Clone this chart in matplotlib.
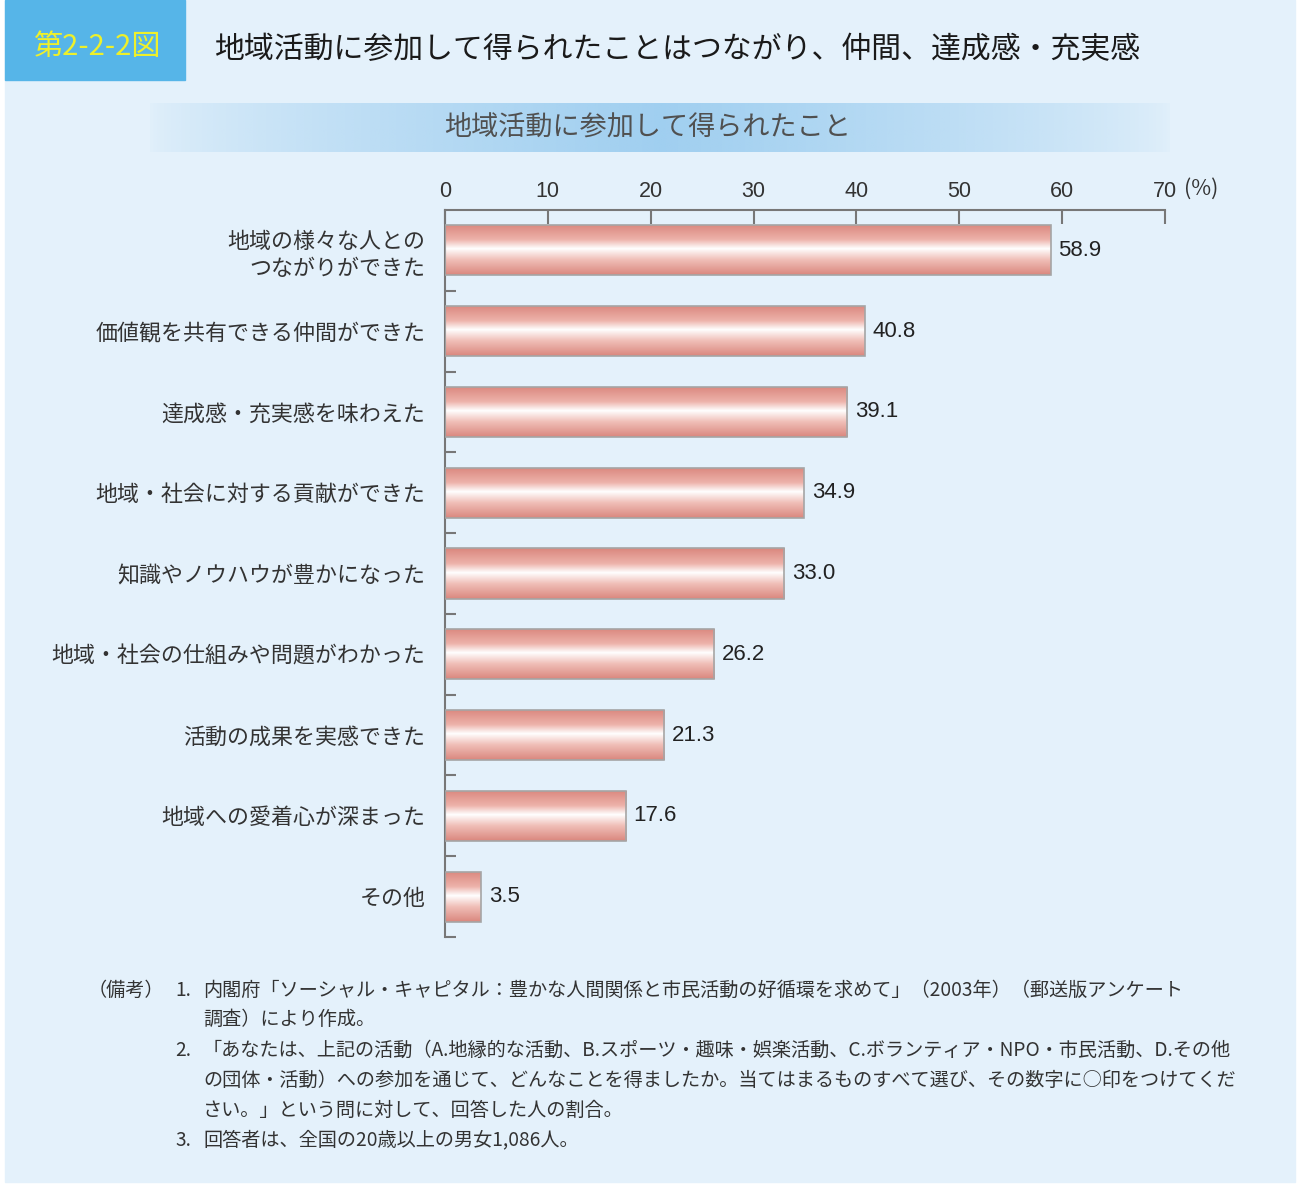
import matplotlib
matplotlib.use('Agg')
import matplotlib.pyplot as plt
import numpy as np
from matplotlib.colors import LinearSegmentedColormap

plt.rcParams['font.family'] = ['Noto Sans CJK JP', 'DejaVu Sans']

#%% Data
categories = ['地域の様々な人との\nつながりができた',
              '価値観を共有できる仲間ができた',
              '達成感・充実感を味わえた',
              '地域・社会に対する貢献ができた',
              '知識やノウハウが豊かになった',
              '地域・社会の仕組みや問題がわかった',
              '活動の成果を実感できた',
              '地域への愛着心が深まった',
              'その他']
values = [58.9, 40.8, 39.1, 34.9, 33.0, 26.2, 21.3, 17.6, 3.5]
xticks = [0, 10, 20, 30, 40, 50, 60, 70]

badge = '第2-2-2図'
title = '地域活動に参加して得られたことはつながり、仲間、達成感・充実感'
subtitle = '地域活動に参加して得られたこと'
unit = '(%)'
note_head = '（備考）'
note_nums = ['1.', '2.', '3.']
note_lines = [['内閣府「ソーシャル・キャピタル：豊かな人間関係と市民活動の好循環を求めて」（2003年）（郵送版アンケート',
               '調査）により作成。'],
              ['「あなたは、上記の活動（A.地縁的な活動、B.スポーツ・趣味・娯楽活動、C.ボランティア・NPO・市民活動、D.その他',
               'の団体・活動）への参加を通じて、どんなことを得ましたか。当てはまるものすべて選び、その数字に○印をつけてくだ',
               'さい。」という問に対して、回答した人の割合。'],
              ['回答者は、全国の20歳以上の男女1,086人。']]

W, H = 1308, 1196
fig = plt.figure(figsize=(W/100, H/100), dpi=100)
fig.patch.set_facecolor('white')

#%% Background / decorations (pixel coords)
bg = fig.add_axes([0, 0, 1, 1])
bg.set_xlim(0, W)
bg.set_ylim(H, 0)
bg.axis('off')
bg.add_patch(plt.Rectangle((5, 0), 1290, 1182, color='#E4F1FB', zorder=0))
bg.add_patch(plt.Rectangle((5, 0), 180, 80, color='#56B5E8', zorder=1))
bg.text(97, 47, badge, color='#EEF02A', fontsize=21, ha='center', va='center', zorder=2)
bg.text(214, 50, title, color='#1A1A1A', fontsize=21.5, ha='left', va='center', zorder=2)

# subtitle band: horizontal fade
xs = np.linspace(0, 1, 400)
band = np.clip(1.0 - np.abs(xs - 0.5) * 2.0, 0, 1) ** 0.7
rgba = np.zeros((1, len(xs), 4))
rgba[..., 0] = 0xA0 / 255
rgba[..., 1] = 0xCF / 255
rgba[..., 2] = 0xF0 / 255
rgba[..., 3] = 0.05 + 0.95 * band
bg.imshow(rgba, extent=[150, 1170, 152, 103], aspect='auto', zorder=1, interpolation='bilinear')
bg.text(648, 128, subtitle, color='#505050', fontsize=19.5, ha='center', va='center', zorder=2)

# footnotes
ys = [990, 1019, 1050, 1080, 1110, 1140]
fs = 13.8
bg.text(88, ys[0], note_head, fontsize=fs, color='#333333', va='center', zorder=2)
k = 0
for num, lines in zip(note_nums, note_lines):
    bg.text(175, ys[k], num, fontsize=fs, color='#333333', va='center', zorder=2)
    for ln in lines:
        bg.text(203, ys[k], ln, fontsize=fs, color='#333333', va='center', zorder=2)
        k += 1

#%% Chart
ax = fig.add_axes([445/W, 1 - 937/H, 720/W, 727/H])
ax.set_facecolor('none')
ypos = np.arange(len(values))
bh = 0.62
bars = ax.barh(ypos, values, height=bh, color='none', edgecolor='#A5A5A5', linewidth=1.2, zorder=3)

cm = LinearSegmentedColormap.from_list('bar', [(0, '#DA877E'), (0.3, '#EDB2AA'),
                                               (0.48, '#FFFFFF'), (0.7, '#F0BFB8'),
                                               (1, '#DA877E')])
grad = np.linspace(0, 1, 128).reshape(-1, 1)
for b in bars:
    x0, y0 = b.get_x(), b.get_y()
    im = ax.imshow(grad, extent=[x0, x0 + b.get_width(), y0 + b.get_height(), y0],
                   aspect='auto', cmap=cm, interpolation='bilinear', zorder=2)
    im.set_clip_path(b)

for y, v in zip(ypos, values):
    ax.text(v + 0.75, y, f'{v:.1f}', fontsize=16, va='center', ha='left',
            color='#222222', family=['Liberation Sans', 'DejaVu Sans'])

ax.set_xlim(0, 70)
ax.set_ylim(len(values) - 0.5, -0.5)
ax.set_xticks(xticks)
ax.set_xticklabels([str(t) for t in xticks], family=['Liberation Sans', 'DejaVu Sans'])
ax.xaxis.tick_top()
ax.tick_params(axis='x', direction='in', length=10, width=1.5, color='#777777',
               labelsize=15.5, labelcolor='#333333', pad=6)
ax.set_yticks(ypos)
ax.set_yticklabels(categories, fontsize=15.8, color='#333333', linespacing=1.3)
ax.set_yticks(np.arange(len(values)) + 0.5, minor=True)
ax.tick_params(axis='y', which='major', length=0, pad=14)
ax.tick_params(axis='y', which='minor', direction='in', length=8, width=1.5, color='#777777')
for s in ['right', 'bottom']:
    ax.spines[s].set_visible(False)
for s in ['left', 'top']:
    ax.spines[s].set_color('#777777')
    ax.spines[s].set_linewidth(1.5)
# unit label on the same line as the tick labels
ax.annotate(unit, xy=(70, 1), xycoords=('data', 'axes fraction'),
            xytext=(14, 15), textcoords='offset points', fontsize=15.5,
            color='#333333', ha='left', va='center')

fig.savefig('out.png', dpi=100, facecolor=fig.get_facecolor())
